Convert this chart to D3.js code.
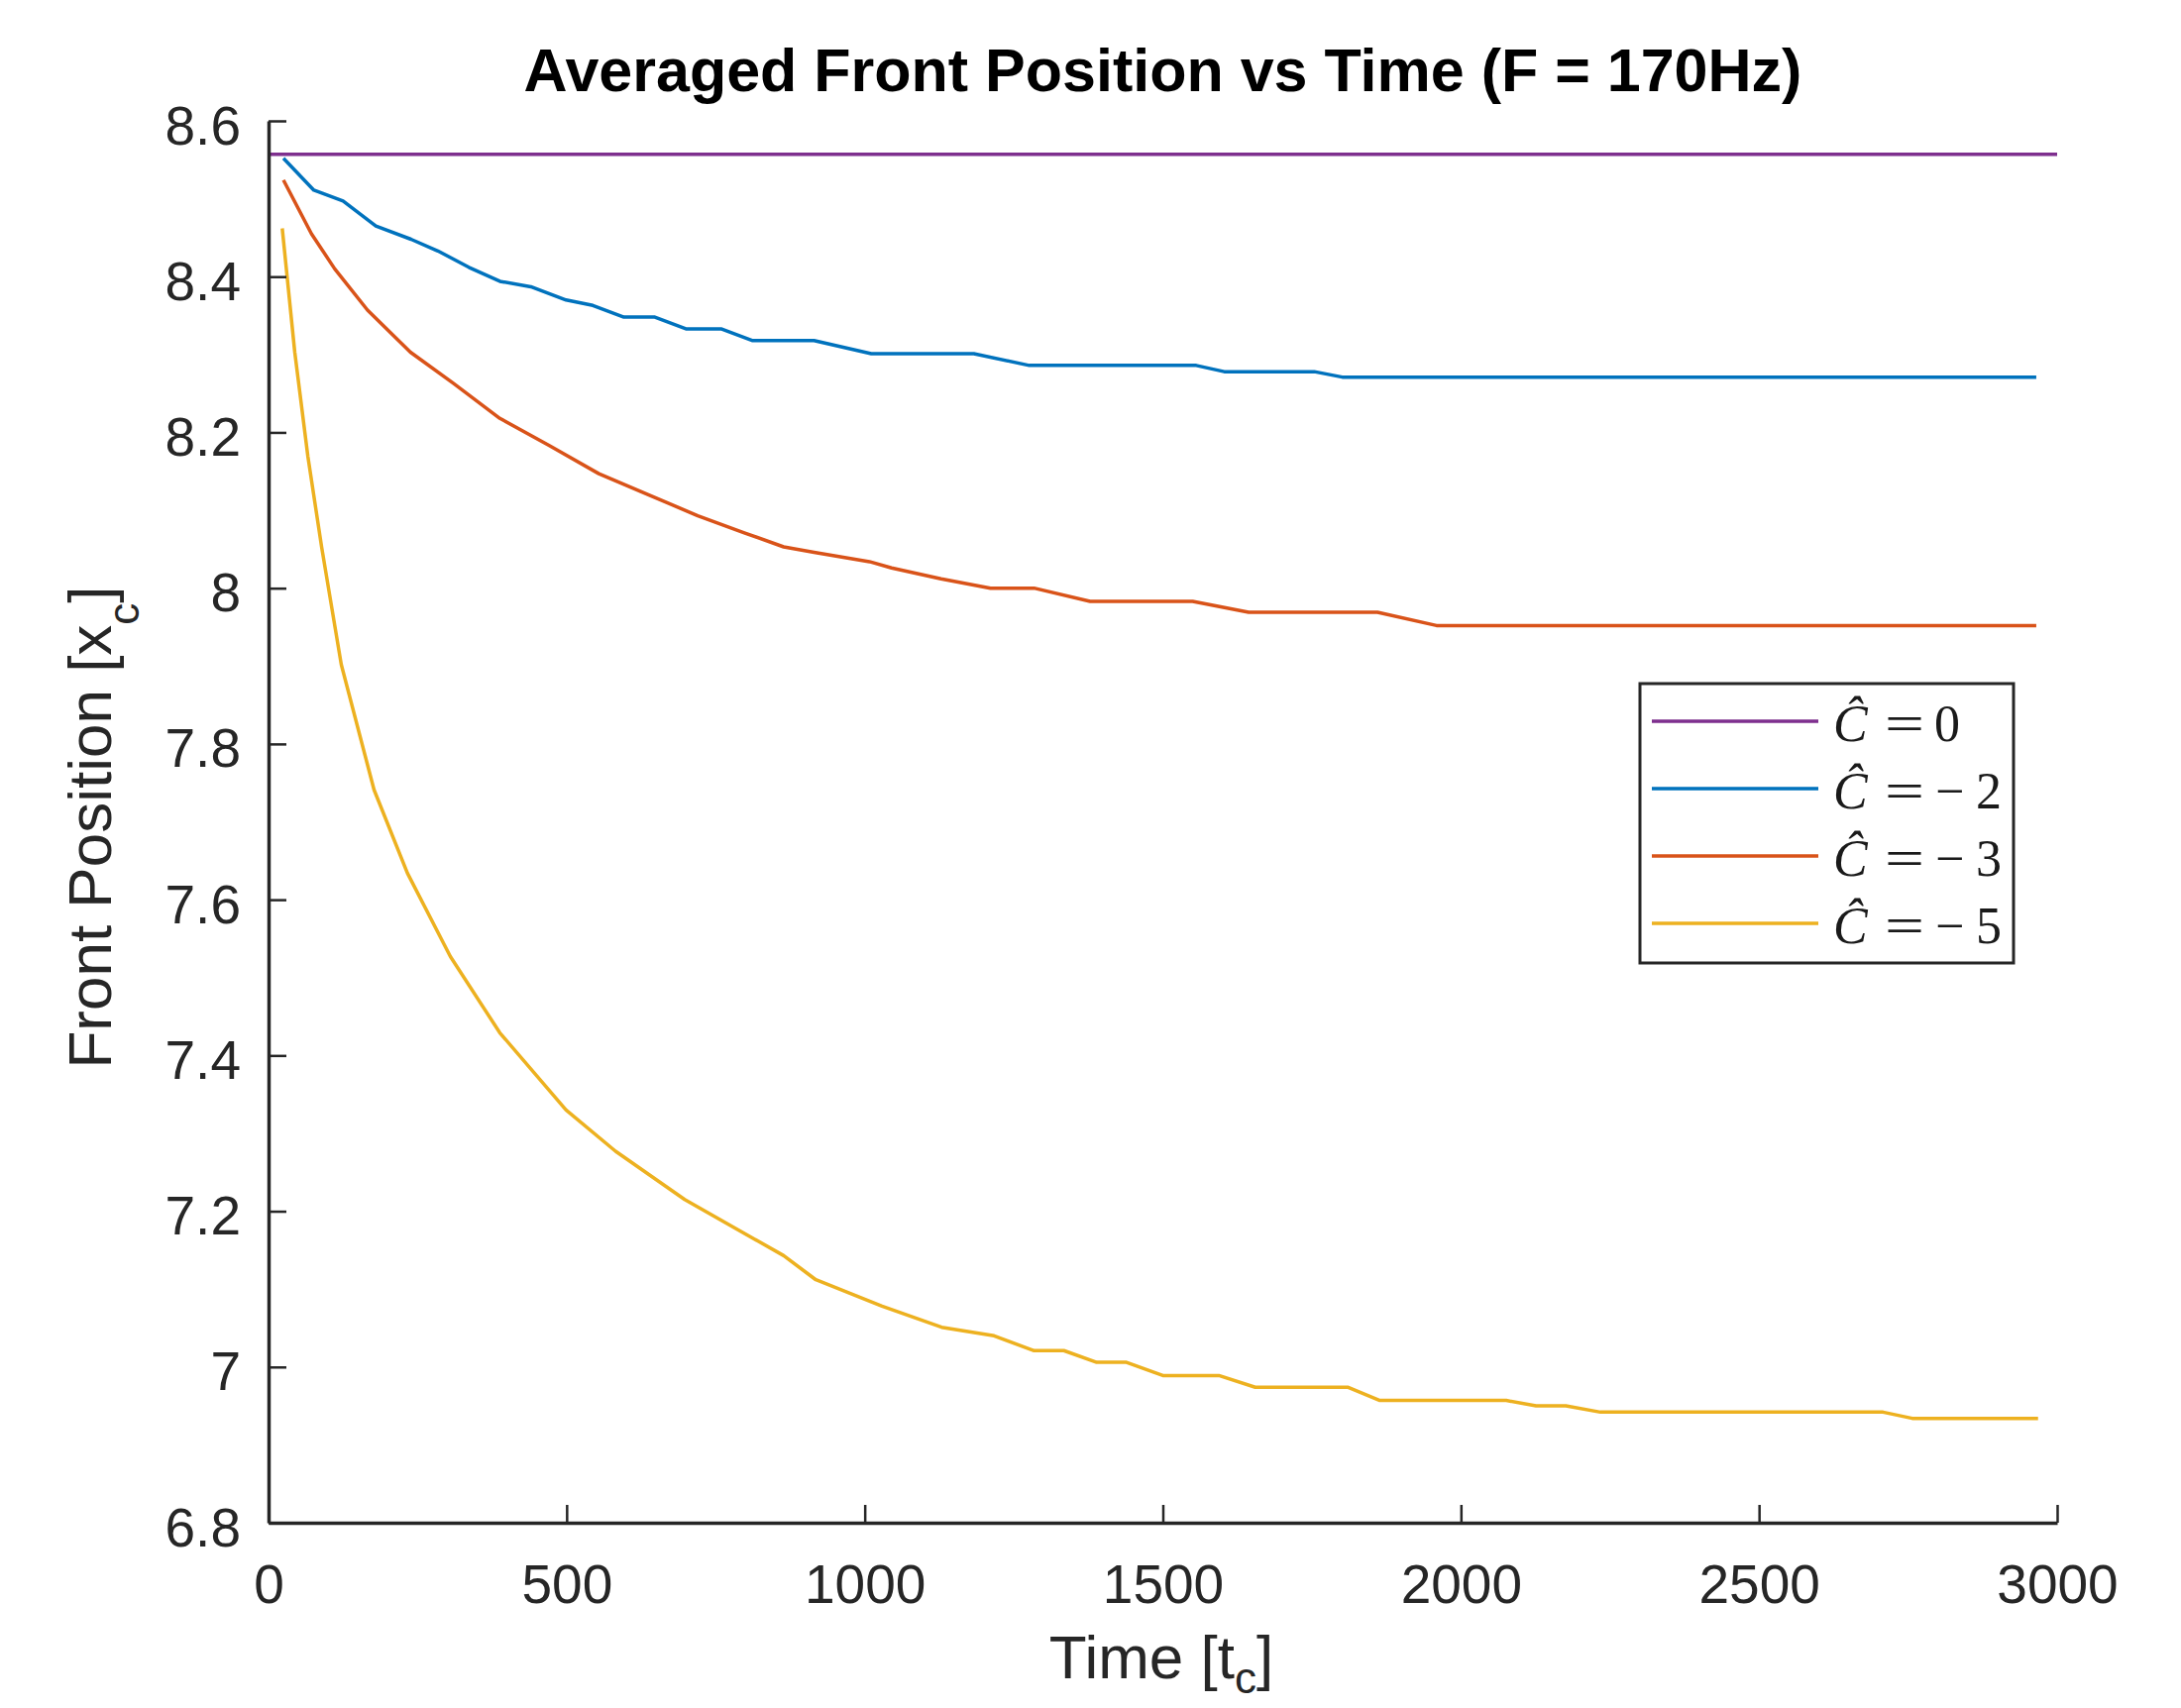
<!DOCTYPE html>
<html>
<head>
<meta charset="utf-8">
<script src="https://cdn.jsdelivr.net/npm/d3@7"></script>
<style>
  body { margin: 0; background: #ffffff; }
  svg { display: block; }
</style>
</head>
<body>
<svg id="chart" width="2201" height="1724"></svg>
<script>
// ---- data -------------------------------------------------------------
const xTicks = [0, 500, 1000, 1500, 2000, 2500, 3000];
const yTicks = [6.8, 7, 7.2, 7.4, 7.6, 7.8, 8, 8.2, 8.4, 8.6];

// legend values of C-hat, one per series
const seriesValues = ["0", "−2", "−3", "−5"];

// [time, averaged front position] for each run
const frontC0 = [[0, 8.557], [3000, 8.557]];

const frontCm2 = [
  [25, 8.552], [76, 8.511], [125, 8.497], [180, 8.465], [239, 8.448],
  [284, 8.433], [336, 8.412], [388, 8.394], [440, 8.387], [499, 8.370],
  [544, 8.363], [596, 8.348], [648, 8.348], [700, 8.333], [759, 8.333],
  [811, 8.318], [915, 8.318], [1011, 8.301], [1183, 8.301], [1276, 8.286],
  [1556, 8.286], [1603, 8.278], [1754, 8.278], [1801, 8.271], [2965, 8.271]
];

const frontCm3 = [
  [25, 8.524], [72, 8.455], [111, 8.410], [166, 8.357], [238, 8.303],
  [310, 8.263], [388, 8.218], [471, 8.183], [554, 8.147], [637, 8.120],
  [720, 8.093], [798, 8.071], [864, 8.053], [915, 8.046], [1008, 8.034],
  [1045, 8.026], [1128, 8.012], [1211, 8.000], [1284, 8.000], [1378, 7.983],
  [1550, 7.983], [1644, 7.969], [1860, 7.969], [1959, 7.952], [2965, 7.952]
];

const frontCm5 = [
  [23, 8.462], [44, 8.303], [66, 8.169], [89, 8.053], [122, 7.902],
  [177, 7.741], [233, 7.634], [305, 7.527], [388, 7.429], [499, 7.330],
  [582, 7.277], [698, 7.215], [864, 7.143], [918, 7.112], [1029, 7.078],
  [1129, 7.051], [1217, 7.040], [1284, 7.021], [1334, 7.021], [1389, 7.006],
  [1439, 7.006], [1500, 6.989], [1594, 6.989], [1655, 6.974], [1810, 6.974],
  [1864, 6.957], [2076, 6.957], [2126, 6.950], [2176, 6.950], [2234, 6.942],
  [2708, 6.942], [2757, 6.934], [2968, 6.934]
];

const seriesData = [frontC0, frontCm2, frontCm3, frontCm5];
const seriesColors = ["#7E2F8E", "#0072BD", "#D95319", "#EDB120"];

// ---- layout -----------------------------------------------------------
const plot = { left: 271, right: 2076, top: 122, bottom: 1537 };
const axisColor = "#262626";
const sans = "'Liberation Sans', Arial, Helvetica, sans-serif";
const serif = "'Liberation Serif', 'Times New Roman', serif";

const svg = d3.select("#chart");
svg.append("rect").attr("width", 2201).attr("height", 1724).attr("fill", "#ffffff");

const x = d3.scaleLinear().domain([0, 3000]).range([plot.left, plot.right]);
const y = d3.scaleLinear().domain([6.8, 8.6]).range([plot.bottom, plot.top]);

// ---- curves -----------------------------------------------------------
const line = d3.line().x(d => x(d[0])).y(d => y(d[1]));

svg.append("g")
  .selectAll("path")
  .data(seriesData)
  .join("path")
  .attr("d", line)
  .attr("fill", "none")
  .attr("stroke", (d, i) => seriesColors[i])
  .attr("stroke-width", 3.5)
  .attr("stroke-linejoin", "round");

// ---- axes -------------------------------------------------------------
const fmt = d3.format("~g");

const yAxis = svg.append("g")
  .attr("transform", `translate(${plot.left},0)`)
  .call(d3.axisLeft(y).tickValues(yTicks).tickFormat(fmt)
    .tickSize(-18).tickSizeOuter(0).tickPadding(28));

const xAxis = svg.append("g")
  .attr("transform", `translate(0,${plot.bottom})`)
  .call(d3.axisBottom(x).tickValues(xTicks).tickFormat(fmt)
    .tickSize(-18).tickSizeOuter(0).tickPadding(42));

[yAxis, xAxis].forEach(g => {
  g.select(".domain").attr("stroke", axisColor).attr("stroke-width", 3.5);
  g.selectAll(".tick line").attr("stroke", axisColor).attr("stroke-width", 2.5);
  g.selectAll(".tick text")
    .attr("fill", axisColor)
    .style("font-family", sans)
    .style("font-size", "55px");
});
yAxis.selectAll(".tick text").attr("dy", "0.42em");

// ---- title and axis labels -------------------------------------------
svg.append("text")
  .attr("x", (plot.left + plot.right) / 2)
  .attr("y", 92)
  .attr("text-anchor", "middle")
  .style("font-family", sans)
  .style("font-size", "61px")
  .style("font-weight", "bold")
  .attr("fill", "#000000")
  .text("Averaged Front Position vs Time (F = 170Hz)");

function labelWithSub(g, main, sub, tail, drop) {
  const t = g.append("text")
    .attr("text-anchor", "middle")
    .style("font-family", sans)
    .style("font-size", "62px")
    .attr("fill", axisColor);
  t.append("tspan").text(main);
  t.append("tspan").attr("dy", drop).style("font-size", "44px").text(sub);
  t.append("tspan").attr("dy", -drop).text(tail);
  return t;
}

labelWithSub(svg.append("g").attr("transform", "translate(1172,1694)"),
  "Time [t", "c", "]", 15);

labelWithSub(svg.append("g").attr("transform", "translate(112,835) rotate(-90)"),
  "Front Position [x", "c", "]", 28);

// ---- legend -----------------------------------------------------------
const legend = svg.append("g");
legend.append("rect")
  .attr("x", 1655).attr("y", 690)
  .attr("width", 377).attr("height", 282)
  .attr("fill", "#ffffff")
  .attr("stroke", axisColor)
  .attr("stroke-width", 3);

const rows = legend.selectAll("g.row")
  .data(seriesValues)
  .join("g")
  .attr("class", "row")
  .attr("transform", (d, i) => `translate(0,${728 + i * 68})`);

rows.append("line")
  .attr("x1", 1667).attr("x2", 1835)
  .attr("y1", 0).attr("y2", 0)
  .attr("stroke", (d, i) => seriesColors[i])
  .attr("stroke-width", 3.5);

const legendText = (sel, xPos, txt, italic) => sel.append("text")
  .attr("x", xPos).attr("y", 20)
  .style("font-family", serif)
  .style("font-size", "52px")
  .style("font-style", italic ? "italic" : "normal")
  .attr("fill", "#1a1a1a")
  .text(txt);

rows.each(function (d) {
  const r = d3.select(this);
  legendText(r, 1850, "Ĉ", true);
  legendText(r, 1902, "=", false)
    .attr("textLength", 40)
    .attr("lengthAdjust", "spacingAndGlyphs");
  if (d.startsWith("−")) {
    legendText(r, 1953, "−", false);
    legendText(r, 1994, d.slice(1), false);
  } else {
    legendText(r, 1952, d, false);
  }
});
</script>
</body>
</html>
